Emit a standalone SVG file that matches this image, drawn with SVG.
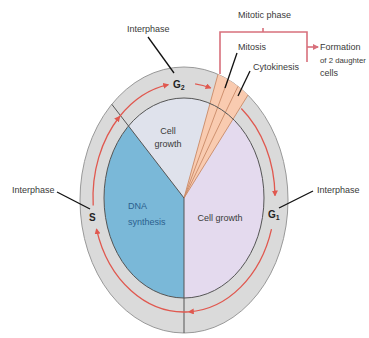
<svg xmlns="http://www.w3.org/2000/svg" width="369" height="338" viewBox="0 0 369 338">
<defs>
<style>
.t{font-family:"Liberation Sans",Arial,sans-serif;font-size:9px;fill:#3a3a3a}
.g{font-family:"Liberation Sans",Arial,sans-serif;font-size:10px;font-weight:bold;fill:#222}
.ptr{stroke:#111;stroke-width:1.3;fill:none}
.red{stroke:#e0584f;stroke-width:1.3;fill:none;marker-end:url(#ah)}
.br{stroke:#d8707c;stroke-width:1.6;fill:none}
.div{stroke:#555;stroke-width:1;fill:none}
.wl{stroke:#c98a68;stroke-width:0.9;fill:none}
</style>
<marker id="ah" viewBox="0 0 6 6" refX="5" refY="3" markerWidth="6" markerHeight="6" markerUnits="userSpaceOnUse" orient="auto">
<path d="M0,0 L6,3 L0,6 z" fill="#e0584f"/>
</marker>
<marker id="ahp" viewBox="0 0 6 6" refX="5" refY="3" markerWidth="6" markerHeight="6" markerUnits="userSpaceOnUse" orient="auto">
<path d="M0,0 L6,3 L0,6 z" fill="#d8707c"/>
</marker>
</defs>
<rect width="369" height="338" fill="#ffffff"/>
<g id="ring">
<ellipse cx="184" cy="200" rx="104" ry="133" fill="#dadada" stroke="#999" stroke-width="1"/>
</g>
<g id="g2-sector">
<path d="M184,198 L128.5,126 A80,100 0 0,1 209.9,103.4 Z" fill="#dfe2ec"/>
<text class="t" x="168" y="134" text-anchor="middle">Cell</text>
<text class="t" x="168" y="147" text-anchor="middle">growth</text>
</g>
<g id="s-sector">
<path d="M184,198 L184,298 A80,100 0 0,1 128.5,126 Z" fill="#7ab8d8"/>
<text class="t" x="128" y="209" style="fill:#2b5f8e">DNA</text>
<text class="t" x="128" y="225" style="fill:#2b5f8e">synthesis</text>
</g>
<g id="g1-sector">
<path d="M184,198 L233.1,119 A80,100 0 0,1 184,298 Z" fill="#e4daee"/>
<text class="t" x="220" y="221" text-anchor="middle">Cell growth</text>
</g>
<g id="mitotic-wedge">
<path d="M184,198 L218,74.3 A104,133 0 0,1 248,95 Z" fill="#f9cbb0"/>
<line class="wl" x1="184" y1="198" x2="218" y2="74.3"/>
<line class="wl" x1="184" y1="198" x2="228" y2="79.5"/>
<line class="wl" x1="184" y1="198" x2="238" y2="86.3"/>
<line class="wl" x1="184" y1="198" x2="248" y2="95"/>
</g>
<g id="dividers">
<line class="div" x1="184" y1="198" x2="184" y2="333"/>
<line class="div" x1="184" y1="198" x2="111.8" y2="104.3"/>
<ellipse cx="184" cy="198" rx="80" ry="100" fill="none" stroke="#555" stroke-width="1"/>
</g>
<g id="connectors">
<path class="red" d="M93.2,205.5 A91,114.5 0 0,1 119.65,116.5"/>
<path class="red" d="M119.65,116.5 A91,114.5 0 0,1 168.2,84.7"/>
<path class="red" d="M195.1,83.9 A91,114.5 0 0,1 210.6,88"/>
<path class="red" d="M241.3,108.5 A91,114.5 0 0,1 275,195.5"/>
<path class="red" d="M271.5,229.1 A91,114.5 0 0,1 188.8,311.8"/>
<path class="red" d="M188.8,311.8 A91,114.5 0 0,1 96.5,229.1"/>
<line class="ptr" x1="148" y1="37" x2="174" y2="73"/>
<line class="ptr" x1="57" y1="192" x2="90" y2="209"/>
<line class="ptr" x1="313" y1="191" x2="279" y2="208"/>
<line class="ptr" x1="237" y1="53" x2="225" y2="88"/>
<line class="ptr" x1="250" y1="71" x2="238" y2="96"/>
<path class="br" d="M220,74 L220,32 L307,32 L307,62 M263,32 L263,28"/>
<line class="br" x1="307" y1="47" x2="318" y2="47" marker-end="url(#ahp)"/>
</g>
<g id="label-g2">
<text class="g" x="173" y="88">G<tspan font-size="7" dy="2">2</tspan></text>
<text class="t" x="127" y="32">Interphase</text>
</g>
<g id="label-s">
<text class="g" x="89" y="221">S</text>
<text class="t" x="12" y="193">Interphase</text>
</g>
<g id="label-g1">
<text class="g" x="268" y="218">G<tspan font-size="7" dy="2">1</tspan></text>
<text class="t" x="317" y="193">Interphase</text>
</g>
<g id="label-mitotic">
<text class="t" x="238" y="18">Mitotic phase</text>
<text class="t" x="238" y="50">Mitosis</text>
<text class="t" x="253" y="70">Cytokinesis</text>
</g>
<g id="label-formation">
<text class="t" x="320" y="50">Formation</text>
<text class="t" x="320" y="63" style="font-size:7.8px">of 2 daughter</text>
<text class="t" x="320" y="76">cells</text>
</g>
</svg>
